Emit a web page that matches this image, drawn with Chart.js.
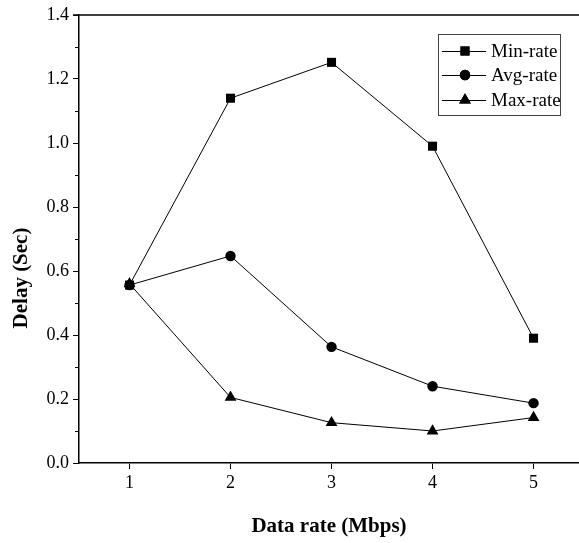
<!DOCTYPE html>
<html>
<head>
<meta charset="utf-8">
<script src="https://cdn.jsdelivr.net/npm/chart.js@4.4.1/dist/chart.umd.min.js"></script>
<style>
  html, body { margin: 0; padding: 0; background: #fff; }
  #wrap { width: 579px; height: 543px; }
</style>
</head>
<body>
<div id="wrap"><canvas id="chart1"></canvas></div>
<script>
// data rates on x axis
const rates = [1, 2, 3, 4, 5];
const minRate = [0.556, 1.14, 1.252, 0.99, 0.39];
const avgRate = [0.556, 0.647, 0.363, 0.24, 0.187];
const maxRate = [0.56, 0.205, 0.126, 0.1, 0.142];
const seriesNames = ['Min-rate', 'Avg-rate', 'Max-rate'];

const serif = '"Liberation Serif", "Times New Roman", serif';

function pts(vals) {
  return rates.map((r, i) => ({ x: r, y: vals[i] }));
}

// extra ticks, top line, y title and the legend box
const decorPlugin = {
  id: 'decor',
  afterDraw(chart) {
    const ctx = chart.ctx;
    const area = chart.chartArea;
    const ys = chart.scales.y;
    ctx.save();
    ctx.strokeStyle = '#000';
    ctx.lineWidth = 1;
    // minor y ticks
    for (let v = 0.1; v < 1.4; v += 0.2) {
      const py = Math.round(ys.getPixelForValue(v)) + 0.5;
      ctx.beginPath();
      ctx.moveTo(area.left - 4, py);
      ctx.lineTo(area.left, py);
      ctx.stroke();
    }
    // top line
    ctx.lineWidth = 1.5;
    ctx.beginPath();
    ctx.moveTo(area.left - 6, area.top);
    ctx.lineTo(area.right, area.top);
    ctx.stroke();

    // y title
    ctx.fillStyle = '#000';
    ctx.font = 'bold 21px ' + serif;
    ctx.textAlign = 'center';
    ctx.textBaseline = 'middle';
    ctx.translate(22, 278);
    ctx.rotate(-Math.PI / 2);
    ctx.fillText('Delay (Sec)', 0, 0);
    ctx.restore();

    // legend
    ctx.save();
    const bx = 438, by = 34, bw = 122, bh = 81;
    ctx.strokeStyle = '#444';
    ctx.lineWidth = 1;
    ctx.strokeRect(bx + 0.5, by + 0.5, bw, bh);
    const rowY = [51, 75, 100];
    chart.data.datasets.forEach((ds, i) => {
      const y = rowY[i];
      ctx.strokeStyle = '#000';
      ctx.beginPath();
      ctx.moveTo(442, y + 0.5);
      ctx.lineTo(486, y + 0.5);
      ctx.stroke();
      Chart.helpers.drawPoint(ctx, {
        pointStyle: ds.pointStyle,
        radius: ds.pointRadius,
        borderWidth: 0
      }, 465, y);
      ctx.fillStyle = '#000';
      ctx.fill();
      ctx.font = '19px ' + serif;
      ctx.textAlign = 'left';
      ctx.textBaseline = 'middle';
      ctx.fillText(ds.label, 491, y + 1);
    });
    ctx.restore();
  }
};

const data1 = {
  datasets: [
    {
      label: seriesNames[0],
      data: pts(minRate),
      pointStyle: 'rect',
      pointRadius: 6.4
    },
    {
      label: seriesNames[1],
      data: pts(avgRate),
      pointStyle: 'circle',
      pointRadius: 5.2
    },
    {
      label: seriesNames[2],
      data: pts(maxRate),
      pointStyle: 'triangle',
      pointRadius: 6.8
    }
  ].map(ds => Object.assign(ds, {
    borderColor: '#000',
    backgroundColor: '#000',
    borderWidth: 1,
    pointBorderWidth: 0,
    pointBackgroundColor: '#000',
    tension: 0
  }))
};

const config1 = {
  type: 'line',
  data: data1,
  options: {
    responsive: true,
    maintainAspectRatio: false,
    animation: false,
    layout: { autoPadding: false, padding: { top: 15, right: 0, left: 0, bottom: 0 } },
    plugins: {
      legend: { display: false },
      tooltip: { enabled: false }
    },
    scales: {
      x: {
        type: 'linear',
        min: 0.5,
        max: 5.45,
        afterBuildTicks(scale) {
          scale.ticks = rates.map(v => ({ value: v }));
        },
        afterFit(scale) { scale.height = 80; },
        border: { display: true, color: '#000', width: 1.5 },
        grid: { drawOnChartArea: false, drawTicks: true, tickLength: 6, color: '#000', lineWidth: 1 },
        ticks: {
          color: '#000',
          padding: 3,
          font: { family: serif, size: 18 }
        },
        title: {
          display: true,
          text: 'Data rate (Mbps)',
          color: '#000',
          font: { family: serif, size: 21, weight: 'bold' },
          padding: { top: 17 }
        }
      },
      y: {
        min: 0,
        max: 1.4,
        afterFit(scale) { scale.width = 79; },
        border: { display: true, color: '#000', width: 1.5 },
        grid: { drawOnChartArea: false, drawTicks: true, tickLength: 6, color: '#000', lineWidth: 1 },
        ticks: {
          stepSize: 0.2,
          color: '#000',
          padding: 4,
          font: { family: serif, size: 18 },
          callback: v => v.toFixed(1)
        }
      }
    }
  },
  plugins: [decorPlugin]
};

const myChart1 = new Chart(document.getElementById('chart1'), config1);
</script>
</body>
</html>
